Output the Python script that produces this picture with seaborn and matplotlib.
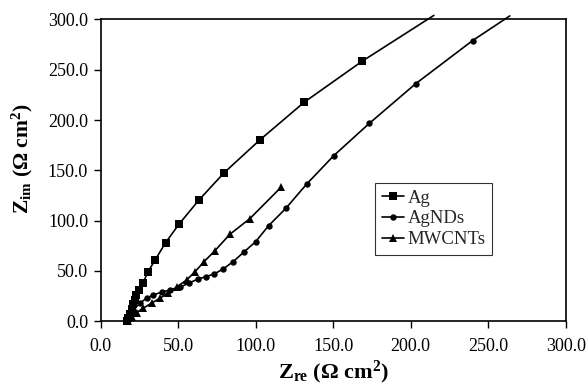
import matplotlib
matplotlib.use("Agg")
import matplotlib.pyplot as plt
import seaborn as sns
import pandas as pd

ag_x = [17, 18, 19, 20, 21, 22, 23, 25, 27.5, 30.5, 35.2, 41.9, 50.5, 63.4, 79.7, 102.6, 131.2, 168.8, 215]
ag_y = [0, 3, 7, 12, 17, 21, 26, 31, 38.3, 49, 60.9, 78, 96.3, 120.4, 147.6, 180, 217.5, 258.5, 304]

agnd_x = [17, 17.8, 21, 25.4, 29.7, 33.9, 39.4, 44.7, 51.2, 57, 63, 67.9, 73.3, 79.1, 85.5, 92.6, 100, 108.4,
          119.5, 132.9, 150.3, 173.3, 203.2, 240, 264]
agnd_y = [0, 4.6, 11, 18, 23, 26, 29, 31, 33.8, 38, 42, 44.3, 47, 52, 59.2, 69, 79, 95,
          112.2, 136.3, 164.4, 196.6, 236, 279, 303.5]

mw_x = [18, 20, 23.2, 27.5, 32.9, 38.3, 43.6, 49, 55.5, 60.8, 66.6, 73.7, 83.4, 96.3, 116.3]
mw_y = [0, 4.6, 8.5, 13, 18, 23, 27.8, 34, 41, 49, 59, 70, 86.4, 102, 133]

labels = ["Ag", "AgNDs", "MWCNTs"]

sns.set_theme(style="white")
plt.rcParams['font.family'] = ['Liberation Serif', 'DejaVu Serif']
plt.rcParams['mathtext.fontset'] = 'custom'
plt.rcParams['mathtext.rm'] = 'Liberation Serif'
plt.rcParams['mathtext.it'] = 'Liberation Serif:italic'
plt.rcParams['mathtext.bf'] = 'Liberation Serif:bold'

fig = plt.figure(figsize=(5.88, 3.88), dpi=100)
ax = fig.add_axes([0.171, 0.172, 0.791, 0.778])

series = [(ag_x, ag_y, "s", 5.5), (agnd_x, agnd_y, "o", 4.6), (mw_x, mw_y, "^", 6)]
for (xs, ys, m, ms), lab in zip(series, labels):
    df = pd.DataFrame({"x": xs, "y": ys})
    last = len(xs) - 1 if lab != "MWCNTs" else len(xs)
    sns.lineplot(data=df, x="x", y="y", sort=False, estimator=None, ax=ax,
                 color="black", lw=1.2, marker=m, markersize=ms, markeredgewidth=0,
                 markevery=list(range(last)), label=lab, clip_on=False)

ax.set_xlim(0, 300)
ax.set_ylim(0, 300)
ticks = [0, 50, 100, 150, 200, 250, 300]
ax.set_xticks(ticks)
ax.set_yticks(ticks)
ax.set_xticklabels([f"{t:.1f}" for t in ticks])
ax.set_yticklabels([f"{t:.1f}" for t in ticks])
ax.tick_params(axis="both", which="major", direction="out", length=5, width=1,
               color="black", labelsize=13, labelcolor="black",
               bottom=True, left=True, top=False, right=False)
ax.tick_params(axis="x", pad=7)
ax.tick_params(axis="y", pad=4)
for s in ax.spines.values():
    s.set_color("black")
    s.set_linewidth(1.2)

ax.set_xlabel(r"$\mathbf{Z_{re}}$ $\mathbf{(Ω\ cm^2)}$", fontsize=16, color="black")
ax.xaxis.set_label_coords(0.5, -0.125)
ax.set_ylabel(r"$\mathbf{Z_{im}}$ $\mathbf{(Ω\ cm^2)}$", fontsize=15.5, color="black")
ax.yaxis.set_label_coords(-0.14, 0.537)

leg = ax.legend(loc="lower left", bbox_to_anchor=(0.59, 0.22), frameon=True, fancybox=False,
                fontsize=13.5, handlelength=1.2, handletextpad=0.2, borderpad=0.35,
                labelspacing=0.2, borderaxespad=0)
leg.get_frame().set_edgecolor("black")
leg.get_frame().set_linewidth(0.8)

fig.savefig("out.png", dpi=100)
